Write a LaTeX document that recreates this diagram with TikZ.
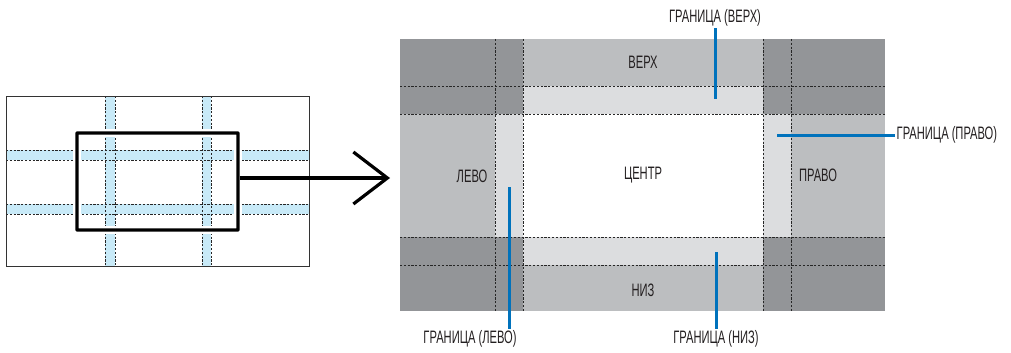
\documentclass[tikz,border=0pt]{standalone}
\usepackage{fontspec}
\setmainfont{Liberation Sans}[FakeStretch=0.62]
\usetikzlibrary{arrows.meta}
\definecolor{darkg}{HTML}{939598}
\definecolor{midg}{HTML}{BCBEC0}
\definecolor{lightg}{HTML}{DCDDDF}
\definecolor{strip}{HTML}{C8EAF8}
\definecolor{callblue}{HTML}{0072BC}
\definecolor{txt}{HTML}{231F20}
\tikzset{
  dsh/.style={draw=black!85, line width=1pt, dash pattern=on 2.2pt off 1.6pt},
  callout/.style={draw=callblue, line width=3pt},
  lbl/.style={font=\fontsize{18}{20}\selectfont, text=txt, inner sep=1.5pt},
}
\begin{document}
\begin{tikzpicture}[x=1pt,y=-1pt]
\useasboundingbox (0,0) rectangle (1011,353);
% ---------- left panel ----------
\fill[strip] (105,96) rectangle (115,266);
\fill[strip] (202,96) rectangle (211,266);
\fill[strip] (6,150) rectangle (309,160);
\fill[strip] (6,204) rectangle (309,214);
\foreach \x in {105,115,202,211} \draw[dsh] (\x,96) -- (\x,266);
\foreach \y in {150,160,204,214} \draw[dsh] (6,\y) -- (309,\y);
\draw[line width=1pt, draw=black!80] (6,96) rectangle (309,266);
% selection rectangle
\draw[white, line width=8pt] (77,133) rectangle (238,230);
\node[draw=black, line width=3.2pt, minimum width=161pt, minimum height=97pt, inner sep=0pt, rounded corners=0.5pt] (sel) at (157.5,181.5) {};
\coordinate (tip) at (390,178);
\draw[line width=3.2pt, -{Straight Barb[length=34pt,width=52pt,line width=3.2pt]}] (sel.east |- tip) -- (tip);
% ---------- right panel ----------
\fill[midg] (400,39) rectangle (885,311);
\fill[darkg] (400,39) rectangle (523,114);
\fill[darkg] (763,39) rectangle (885,114);
\fill[darkg] (400,237) rectangle (523,311);
\fill[darkg] (763,237) rectangle (885,311);
\fill[lightg] (523,86) rectangle (763,114);
\fill[lightg] (523,237) rectangle (763,265);
\fill[lightg] (495,114) rectangle (523,237);
\fill[lightg] (763,114) rectangle (791,237);
\fill[white] (523,114) rectangle (763,237);
\foreach \x in {495,523,763,791} \draw[dsh] (\x,39) -- (\x,311);
\foreach \y in {86,114,237,265} \draw[dsh] (400,\y) -- (885,\y);
% region labels
\node[lbl] (top) at (643,62) {ВЕРХ};
\node[lbl] (left) at (472,176) {ЛЕВО};
\node[lbl] (center) at (643,175) {ЦЕНТР};
\node[lbl] (right) at (818,175) {ПРАВО};
\node[lbl] (bottom) at (643,290) {НИЗ};
% callouts
\node[lbl] (lT) at (715,18) {ГРАНИЦА (ВЕРХ)};
\node[lbl, anchor=west] (lR) at (895,135) {ГРАНИЦА (ПРАВО)};
\node[lbl] (lL) at (470,339) {ГРАНИЦА (ЛЕВО)};
\node[lbl] (lB) at (716,339) {ГРАНИЦА (НИЗ)};
\coordinate (cT) at (715,99);
\coordinate (cR) at (777,135);
\coordinate (cL) at (509,187);
\coordinate (cB) at (716,252);
\draw[callout] (lT.south) -- (cT);
\draw[callout] (lR.west) -- (cR);
\draw[callout] (cL) -- (cL |- lL.north);
\draw[callout] (cB) -- (lB.north);
\end{tikzpicture}
\end{document}
